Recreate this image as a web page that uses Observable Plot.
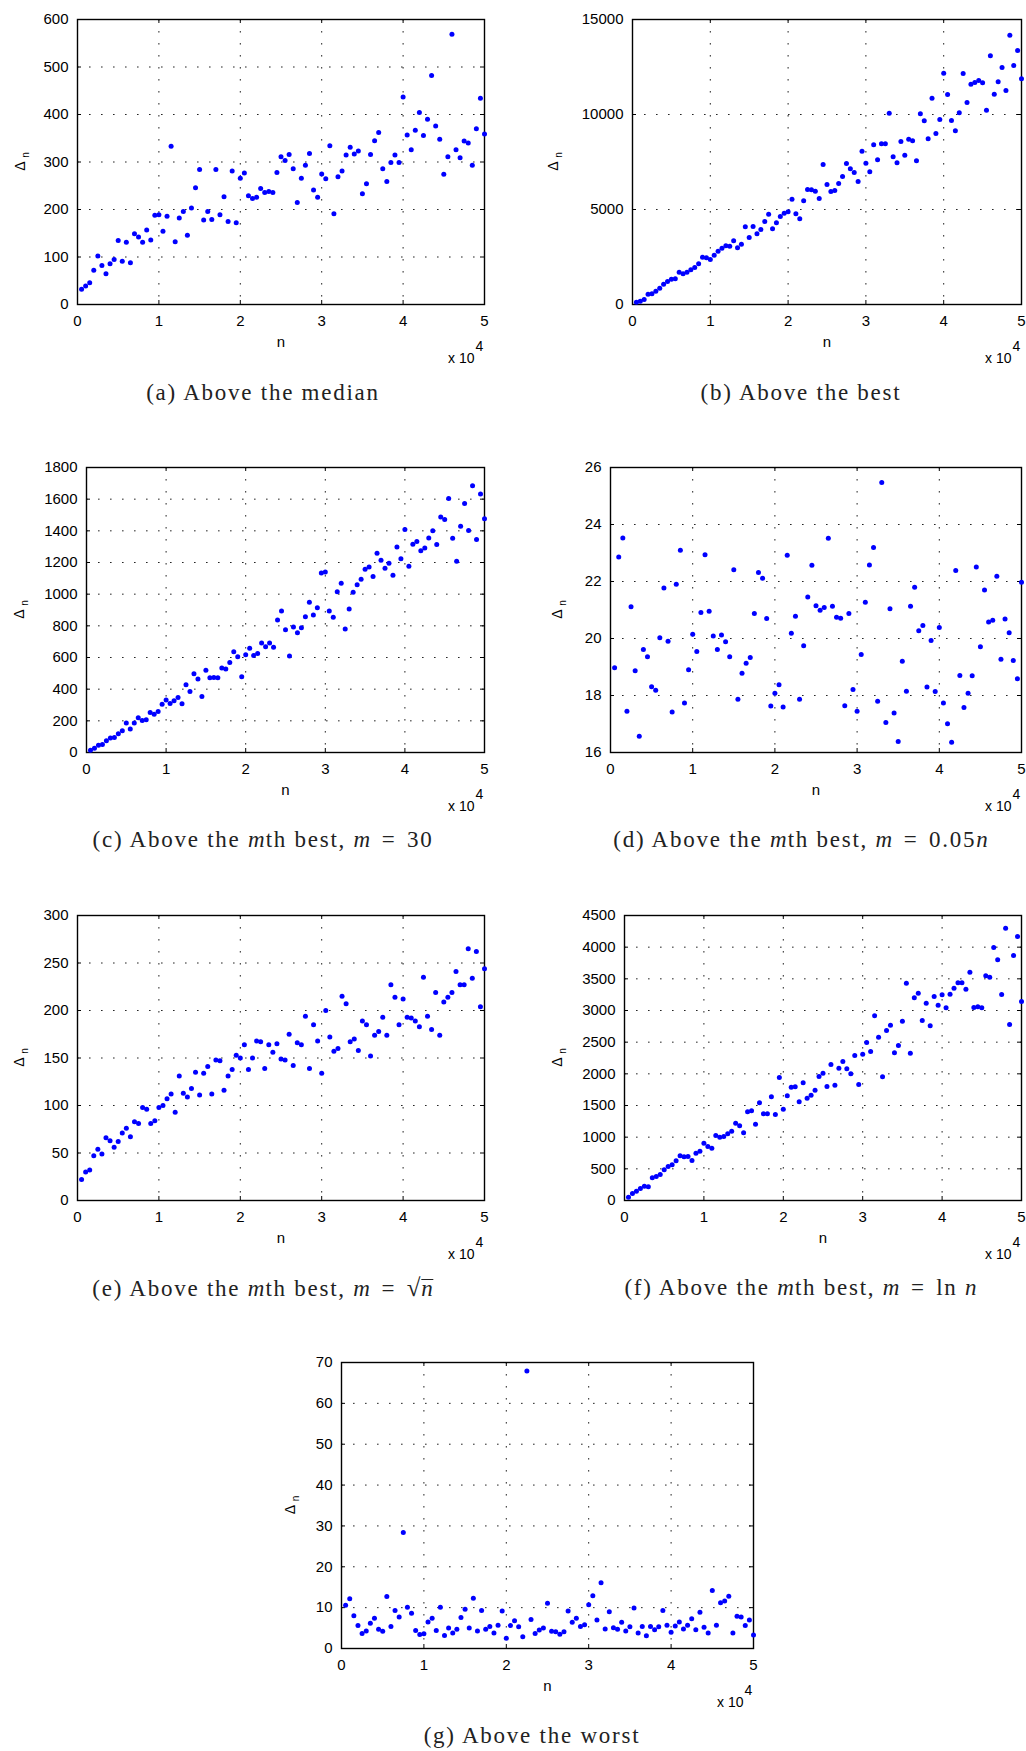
<!DOCTYPE html>
<html>
<head>
<meta charset="utf-8">
<script src="https://cdn.jsdelivr.net/npm/d3@7"></script>
<script src="https://cdn.jsdelivr.net/npm/@observablehq/plot@0.6"></script>
<style>
  body { margin: 0; background: #fff; }
  #fig { position: relative; width: 1026px; height: 1751px; overflow: hidden; background: #fff; }
  .panel { position: absolute; }
  .cap {
    position: absolute; white-space: nowrap; transform: translateX(-50%);
    font-family: "Liberation Serif", "Times New Roman", serif; font-size: 23px; line-height: 23px;
    letter-spacing: 1.75px; color: #222;
  }
  .cap i { letter-spacing: 1px; }
  .eq { margin: 0 3px; }
  .root { font-size: 25px; }
  .rad { display: inline-block; line-height: 17px; border-top: 1.3px solid #222; padding-top: 0; margin-left: -1px; }
</style>
</head>
<body>
<div id="fig"></div>
<script>
// Problem size n at which each Δn was sampled
const nValues = [
  500, 1000, 1500, 2000, 2500, 3000, 3500, 4000, 4500, 5000,
  5500, 6000, 6500, 7000, 7500, 8000, 8500, 9000, 9500, 10000,
  10500, 11000, 11500, 12000, 12500, 13000, 13500, 14000, 14500, 15000,
  15500, 16000, 16500, 17000, 17500, 18000, 18500, 19000, 19500, 20000,
  20500, 21000, 21500, 22000, 22500, 23000, 23500, 24000, 24500, 25000,
  25500, 26000, 26500, 27000, 27500, 28000, 28500, 29000, 29500, 30000,
  30500, 31000, 31500, 32000, 32500, 33000, 33500, 34000, 34500, 35000,
  35500, 36000, 36500, 37000, 37500, 38000, 38500, 39000, 39500, 40000,
  40500, 41000, 41500, 42000, 42500, 43000, 43500, 44000, 44500, 45000,
  45500, 46000, 46500, 47000, 47500, 48000, 48500, 49000, 49500, 50000
];

// (a) above the median
const aboveMedian = [
  32, 39, 46, 72, 102, 82, 65, 86, 95, 135,
  91, 131, 88, 149, 142, 131, 157, 136, 188, 189,
  154, 186, 333, 132, 182, 196, 146, 203, 246, 284,
  178, 196, 179, 284, 189, 227, 175, 281, 172, 266,
  277, 229, 223, 226, 244, 236, 238, 236, 278, 311,
  303, 316, 286, 215, 266, 293, 318, 241, 226, 275,
  265, 334, 191, 269, 281, 315, 331, 317, 323, 233,
  254, 316, 345, 362, 286, 259, 299, 315, 299, 437,
  357, 326, 367, 404, 356, 390, 482, 376, 348, 274,
  311, 569, 326, 309, 344, 340, 293, 370, 434, 359
];

// (b) above the best
const aboveBest = [
  123, 175, 263, 544, 561, 702, 860, 1070, 1211, 1333,
  1351, 1702, 1614, 1702, 1825, 1947, 2140, 2491, 2456, 2368,
  2596, 2807, 2965, 3088, 3070, 3351, 2982, 3175, 4088, 3526,
  4105, 3719, 3947, 4368, 4754, 3982, 4298, 4632, 4807, 4877,
  5544, 4772, 4509, 5456, 6053, 6035, 5965, 5579, 7368, 6316,
  5947, 6000, 6368, 6737, 7421, 7140, 6947, 6474, 8070, 7439,
  6982, 8404, 7614, 8456, 8456, 10070, 7772, 7456, 8579, 7860,
  8702, 8614, 7561, 10035, 9667, 8719, 10860, 9000, 9737, 12175,
  11053, 9684, 9140, 10088, 12158, 10632, 11596, 11684, 11789, 11667,
  10228, 13088, 11070, 11719, 12474, 11263, 14175, 12579, 13368, 11877
];

// (c) above the mth best, m = 30
const aboveMth30 = [
  15, 27, 46, 51, 74, 91, 95, 118, 137, 186,
  148, 186, 219, 202, 207, 253, 242, 259, 304, 331,
  310, 327, 348, 308, 428, 386, 497, 464, 354, 519,
  472, 474, 472, 533, 527, 569, 637, 605, 479, 618,
  658, 613, 626, 691, 668, 691, 664, 837, 894, 776,
  609, 793, 757, 788, 858, 949, 869, 915, 1134, 1140,
  894, 854, 1016, 1069, 780, 906, 1012, 1060, 1094, 1157,
  1172, 1111, 1258, 1214, 1164, 1195, 1119, 1298, 1223, 1408,
  1176, 1315, 1332, 1275, 1292, 1355, 1400, 1313, 1488, 1471,
  1604, 1353, 1208, 1429, 1573, 1402, 1684, 1345, 1632, 1476
];

// (d) above the mth best, m = 0.05n
const aboveMthFrac = [
  18.97, 22.86, 23.53, 17.45, 21.11, 18.87, 16.57, 19.61, 19.36, 18.31,
  18.18, 20.03, 21.77, 19.90, 17.42, 21.90, 23.10, 17.74, 18.90, 20.15,
  19.54, 20.91, 22.94, 20.96, 20.09, 19.61, 20.12, 19.89, 19.36, 22.41,
  17.87, 18.78, 19.13, 19.33, 20.88, 22.32, 22.11, 20.70, 17.63, 18.08,
  18.38, 17.60, 22.92, 20.18, 20.78, 17.87, 19.75, 21.46, 22.57, 21.15,
  20.99, 21.09, 23.52, 21.13, 20.75, 20.71, 17.64, 20.88, 18.21, 17.45,
  19.44, 21.27, 22.58, 23.19, 17.80, 25.47, 17.05, 21.04, 17.39, 16.39,
  19.20, 18.15, 21.13, 21.80, 20.27, 20.46, 18.30, 19.93, 18.14, 20.39,
  17.74, 17.01, 16.36, 22.39, 18.70, 17.58, 18.08, 18.69, 22.51, 19.71,
  21.70, 20.58, 20.64, 22.18, 19.27, 20.68, 20.20, 19.23, 18.59, 21.97
];

// (e) above the mth best, m = sqrt(n)
const aboveMthSqrt = [
  22, 30, 32, 47, 54, 49, 66, 63, 56, 62,
  71, 76, 67, 83, 81, 98, 96, 81, 84, 98,
  100, 107, 112, 93, 131, 113, 109, 118, 135, 111,
  134, 141, 112, 148, 147, 116, 131, 138, 153, 150,
  164, 138, 150, 168, 167, 139, 164, 156, 165, 149,
  148, 175, 142, 166, 164, 194, 139, 185, 168, 134,
  200, 172, 157, 160, 215, 207, 167, 170, 158, 189,
  185, 152, 174, 178, 193, 174, 227, 214, 185, 212,
  193, 192, 189, 183, 235, 194, 180, 219, 174, 209,
  214, 219, 241, 227, 227, 265, 234, 262, 204, 244
];

// (f) above the mth best, m = ln n
const aboveMthLog = [
  53, 111, 147, 190, 226, 216, 358, 379, 411, 484,
  537, 563, 626, 705, 689, 695, 632, 747, 779, 905,
  853, 826, 1026, 1000, 1011, 1053, 1095, 1221, 1179, 1068,
  1400, 1416, 1205, 1542, 1368, 1368, 1637, 1358, 1942, 1442,
  1653, 1789, 1795, 1558, 1858, 1616, 1663, 1742, 1958, 2011,
  1800, 2147, 1821, 2089, 2195, 2079, 2000, 2289, 1832, 2311,
  2495, 2353, 2916, 2579, 1953, 2684, 2768, 2332, 2447, 2832,
  3432, 2326, 3200, 3274, 2842, 3116, 2758, 3221, 3084, 3247,
  3042, 3258, 3353, 3437, 3437, 3337, 3605, 3047, 3058, 3042,
  3547, 3526, 3995, 3800, 3253, 4300, 2779, 3868, 4168, 3142
];

// (g) above the worst
const aboveWorst = [
  10.6, 12.2, 8.0, 5.6, 3.7, 4.3, 6.2, 7.4, 4.7, 4.2,
  12.7, 5.4, 9.3, 7.7, 28.4, 10.1, 8.6, 4.4, 3.4, 3.6,
  6.5, 7.4, 4.4, 10.1, 3.2, 5.0, 3.8, 4.7, 7.6, 9.6,
  5.0, 12.3, 4.3, 9.3, 4.7, 5.4, 3.8, 5.7, 9.2, 2.5,
  5.6, 6.8, 5.3, 2.9, 67.9, 7.1, 3.7, 4.5, 5.0, 11.1,
  4.2, 4.1, 3.5, 4.1, 9.2, 6.4, 7.4, 5.4, 5.8, 10.7,
  12.9, 7.0, 16.1, 4.8, 9.0, 5.1, 4.7, 6.4, 4.3, 5.3,
  9.9, 3.8, 5.4, 3.1, 5.4, 4.6, 5.3, 9.3, 5.7, 4.0,
  5.5, 6.5, 4.8, 5.7, 7.3, 4.6, 8.9, 5.2, 3.8, 14.2,
  5.7, 11.2, 11.6, 12.8, 3.8, 7.9, 7.7, 5.6, 7.0, 3.3
];

// Tick values
const xTicks = [0, 10000, 20000, 30000, 40000, 50000];
const yTicksA = [0, 100, 200, 300, 400, 500, 600];
const yTicksB = [0, 5000, 10000, 15000];
const yTicksC = [0, 200, 400, 600, 800, 1000, 1200, 1400, 1600, 1800];
const yTicksD = [16, 18, 20, 22, 24, 26];
const yTicksE = [0, 50, 100, 150, 200, 250, 300];
const yTicksF = [0, 500, 1000, 1500, 2000, 2500, 3000, 3500, 4000, 4500];
const yTicksG = [0, 10, 20, 30, 40, 50, 60, 70];

// Sub-figure captions
const captions = [
  '(a) Above the median',
  '(b) Above the best',
  '(c) Above the <i>m</i>th best, <i>m</i> <span class="eq">=</span> 30',
  '(d) Above the <i>m</i>th best, <i>m</i> <span class="eq">=</span> 0.05<i>n</i>',
  '(e) Above the <i>m</i>th best, <i>m</i> <span class="eq">=</span> <span class="root">√</span><span class="rad"><i>n</i></span>',
  '(f) Above the <i>m</i>th best, <i>m</i> <span class="eq">=</span> ln <i>n</i>',
  '(g) Above the worst'
];

// Layout: plot frame box [left, top, right, bottom], y-label offset, caption centre and baseline
const layout = [
  {values: aboveMedian,  yTicks: yTicksA, frame: [77, 19, 484, 304],     yLab: 57, capX: 263, capBase: 400},
  {values: aboveBest,    yTicks: yTicksB, frame: [632, 19, 1021, 304],   yLab: 79, capX: 801, capBase: 400},
  {values: aboveMth30,   yTicks: yTicksC, frame: [86, 467, 484, 752],    yLab: 67, capX: 263, capBase: 847},
  {values: aboveMthFrac, yTicks: yTicksD, frame: [610, 467, 1021, 752],  yLab: 53, capX: 801, capBase: 847},
  {values: aboveMthSqrt, yTicks: yTicksE, frame: [77, 915, 484, 1200],   yLab: 58, capX: 263, capBase: 1295},
  {values: aboveMthLog,  yTicks: yTicksF, frame: [624, 915, 1021, 1200], yLab: 67, capX: 801, capBase: 1295},
  {values: aboveWorst,   yTicks: yTicksG, frame: [341, 1362, 753, 1648], yLab: 51, capX: 532, capBase: 1743}
];

const fig = document.getElementById("fig");
const mL = 85, mT = 10, mR = 5, mB = 70;
const dotted = {stroke: "#000", strokeOpacity: 0.85, strokeWidth: 1, strokeDasharray: "1.6,10.4"};

layout.forEach((p, i) => {
  const [L, T, R, B] = p.frame;
  const w = R - L, h = B - T;
  const data = nValues.map((n, j) => ({n, v: p.values[j]}));
  const yDomain = [p.yTicks[0], p.yTicks[p.yTicks.length - 1]];

  const svg = Plot.plot({
    width: w + mL + mR,
    height: h + mT + mB,
    marginLeft: mL, marginTop: mT, marginRight: mR, marginBottom: mB,
    style: {fontFamily: '"Liberation Sans", Arial, sans-serif', fontSize: "15px", color: "#000", background: "transparent", overflow: "visible"},
    x: {domain: [0, 50000]},
    y: {domain: yDomain},
    marks: [
      Plot.gridX(xTicks, dotted),
      Plot.gridY(p.yTicks, dotted),
      // inward tick marks on all four sides
      Plot.tickX(xTicks, {x: d => d, insetTop: h - 4, stroke: "#000"}),
      Plot.tickX(xTicks, {x: d => d, insetBottom: h - 4, stroke: "#000"}),
      Plot.tickY(p.yTicks, {y: d => d, insetRight: w - 4, stroke: "#000"}),
      Plot.tickY(p.yTicks, {y: d => d, insetLeft: w - 4, stroke: "#000"}),
      Plot.frame({stroke: "#000", strokeWidth: 1.4}),
      Plot.axisX(xTicks, {tickSize: 0, tickPadding: 11, tickFormat: d => String(d / 10000), label: null, fontSize: 15}),
      Plot.axisY(p.yTicks, {tickSize: 0, tickPadding: 9, tickFormat: d => String(d), label: null, fontSize: 15}),
      Plot.dot(data, {x: "n", y: "v", r: 2.5, fill: "#0000ff"}),
      Plot.text(["n"], {frameAnchor: "bottom", dy: 42, textAnchor: "middle", fontSize: 15}),
      Plot.text(["x 10"], {frameAnchor: "bottom-right", dx: -10, dy: 58, textAnchor: "end", fontSize: 14}),
      Plot.text(["4"], {frameAnchor: "bottom-right", dx: -9, dy: 46, textAnchor: "start", fontSize: 14}),
      Plot.text(["Δ"], {frameAnchor: "left", dx: -p.yLab, dy: 4, rotate: -90, textAnchor: "middle", fontSize: 14}),
      Plot.text(["n"], {frameAnchor: "left", dx: -p.yLab + 5, dy: -7, rotate: -90, textAnchor: "middle", fontSize: 10})
    ]
  });

  const holder = document.createElement("div");
  holder.className = "panel";
  holder.style.left = (L - mL) + "px";
  holder.style.top = (T - mT) + "px";
  holder.style.width = (w + mL + mR) + "px";
  holder.style.height = (h + mT + mB) + "px";
  holder.appendChild(svg);
  fig.appendChild(holder);

  const cap = document.createElement("div");
  cap.className = "cap";
  cap.style.left = p.capX + "px";
  cap.style.top = (p.capBase - 19.3) + "px";
  cap.innerHTML = captions[i];
  fig.appendChild(cap);
});
</script>
</body>
</html>
